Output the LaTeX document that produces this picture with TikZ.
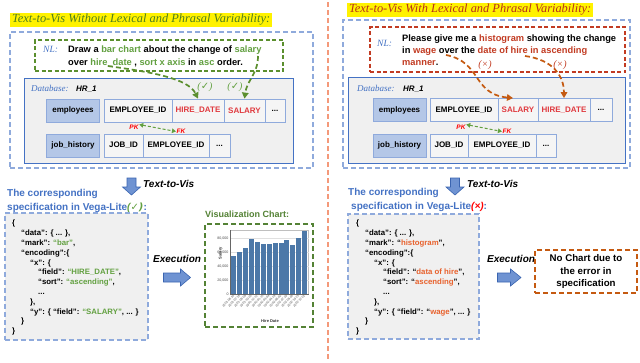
\documentclass[tikz,border=0pt]{standalone}
\usepackage{fontspec}
\setmainfont{Liberation Sans}
\newfontfamily\tms{Liberation Serif}
\newfontfamily\djv{DejaVu Sans}
\usetikzlibrary{arrows.meta}
\definecolor{boxblue}{HTML}{8FAADC}
\definecolor{dbblue}{HTML}{4472C4}
\definecolor{lblfill}{HTML}{B4C7E7}
\definecolor{grayfill}{HTML}{F0F0F0}
\definecolor{cellfill}{HTML}{F5F5F5}
\definecolor{nlgreen}{HTML}{5B8F2E}
\definecolor{txtgreen}{HTML}{62A040}
\definecolor{tabred}{HTML}{E0393E}
\definecolor{nlred}{HTML}{C23B22}
\definecolor{codeorange}{HTML}{E8612C}
\definecolor{arroworange}{HTML}{C55A11}
\definecolor{divcol}{HTML}{F4997A}
\definecolor{titlegreen}{HTML}{4E7D1E}
\definecolor{titlered}{HTML}{B7301A}
\definecolor{chartgreen}{HTML}{548235}
\definecolor{barblue}{HTML}{4C78A8}
\definecolor{arrowfill}{HTML}{6F93D2}
\definecolor{arrowdraw}{HTML}{3A64B0}
\newcommand\gtx[1]{\textcolor{txtgreen}{#1}}
\newcommand\rtx[1]{\textcolor{nlred}{#1}}
\newcommand\otx[1]{\textcolor{codeorange}{#1}}
\tikzset{
  outerbox/.style={draw=boxblue, line width=1.6pt, dash pattern=on 5pt off 3pt, inner sep=0pt},
  nlgbox/.style={draw=nlgreen, line width=1.4pt, dash pattern=on 4pt off 2.5pt, inner sep=0pt},
  nlrbox/.style={draw=nlred, line width=1.4pt, dash pattern=on 4pt off 2.5pt, inner sep=0pt},
  dbbox/.style={draw=dbblue, line width=0.7pt, fill=grayfill, inner sep=0pt},
  codebox/.style={outerbox, fill=grayfill},
  cell/.style={draw=boxblue, line width=0.8pt, fill=cellfill, minimum height=23pt, inner sep=0pt, font=\bfseries\fontsize{8}{9}\selectfont},
  redcell/.style={cell, text=tabred},
  lblcell/.style={cell, fill=lblfill},
  titlebox/.style={fill=yellow, inner xsep=2pt, inner ysep=0pt, minimum height=14pt, font=\tms\itshape\fontsize{12.4}{14}\selectfont},
  nllab/.style={font=\tms\itshape\fontsize{9.5}{11}\selectfont, text=dbblue, inner sep=0pt},
  nltext/.style={font=\bfseries\fontsize{9.3}{11}\selectfont, inner sep=0pt},
  dblab/.style={font=\tms\itshape\fontsize{9}{11}\selectfont, text=dbblue, inner sep=0pt},
  hrlab/.style={font=\bfseries\itshape\fontsize{8}{9}\selectfont, inner sep=0pt},
  keylab/.style={font=\bfseries\itshape\fontsize{6.5}{7}\selectfont, text=red, inner sep=0.5pt},
  chk/.style={font=\tms\itshape\fontsize{10}{11}\selectfont, inner sep=0pt},
  garrow/.style={draw=nlgreen, line width=1.7pt, dash pattern=on 5pt off 3pt, -{Triangle[length=6pt,width=6.5pt]}},
  oarrow/.style={draw=arroworange, line width=1.7pt, dash pattern=on 5pt off 3pt, -{Triangle[length=6pt,width=6.5pt]}},
  pkarrow/.style={draw=txtgreen, line width=1pt, dash pattern=on 3pt off 2pt, {Triangle[length=4pt,width=4.5pt]}-{Triangle[length=4pt,width=4.5pt]}},
  blockarrow/.style={fill=arrowfill, draw=arrowdraw, line width=0.6pt},
  sidelab/.style={font=\bfseries\itshape\fontsize{10}{12}\selectfont, inner sep=0pt},
  headtext/.style={font=\bfseries\fontsize{10}{12}\selectfont, text=dbblue, inner sep=0pt},
  codetext/.style={align=left, inner sep=0pt, font=\bfseries\fontsize{7.8}{9.8}\selectfont},
  ticklbl/.style={font=\fontsize{3.6}{4}\selectfont, text=black!70, inner sep=0.3pt},
  datelbl/.style={font=\fontsize{3}{3.2}\selectfont, text=black!70, inner sep=0pt},
  axlbl/.style={font=\bfseries\fontsize{4}{5}\selectfont, text=black!80, inner sep=0pt}
}
\begin{document}
\begin{tikzpicture}[x=1pt,y=-1pt]
\useasboundingbox (0,0) rectangle (640,362);
\fill[white] (0,0) rectangle (640,362);

% divider
\draw[draw=divcol, line width=1.5pt, dash pattern=on 5pt off 3pt] (328,2) -- (328,360);

% ================= LEFT =================
\node[titlebox, anchor=west, text=titlegreen] (titleL) at (10,20) {Text-to-Vis Without Lexical and Phrasal Variability:};
\node[outerbox, minimum width=303pt, minimum height=136pt] (outL) at (161.5,100) {};
\node[nlgbox, minimum width=248pt, minimum height=31pt] (nlL) at (159,55.5) {};
\node[nllab, anchor=base west] (nlLab) at (43,52) {NL:};
\node[nltext, anchor=base west] (nlL1) at (68,52.5) {Draw a \gtx{bar chart} about the change of \gtx{salary}};
\node[nltext, anchor=base west] (nlL2) at (68,65.5) {over \gtx{hire\_date} , \gtx{sort x axis} in \gtx{asc} order.};

\node[dbbox, minimum width=269pt, minimum height=85pt] (dbL) at (158.5,120.5) {};
\node[dblab, anchor=base west] (dbLab) at (31,91) {Database:};
\node[hrlab, anchor=base west] (hrL) at (76,91) {HR\_1};

\node[lblcell, minimum width=53pt] (empL) at (73,110.5) {employees};
\node[cell, minimum width=68pt] (eidL) at (138,110.5) {EMPLOYEE\_ID};
\node[redcell, minimum width=52pt] (hdL) at (198,110.5) {HIRE\_DATE};
\node[redcell, minimum width=41pt] (salL) at (244.5,110.5) {SALARY};
\node[cell, minimum width=20pt] (dotsL) at (275,110.5) {...};

\node[lblcell, minimum width=53pt] (jhL) at (73,145.5) {job\_history};
\node[cell, minimum width=39pt] (jidL) at (123.5,145.5) {JOB\_ID};
\node[cell, minimum width=66pt] (jeidL) at (176,145.5) {EMPLOYEE\_ID};
\node[cell, minimum width=21pt] (jdotsL) at (219.5,145.5) {...};

\node[keylab] (pkL) at (134,127.5) {PK};
\node[keylab] (fkL) at (181,131.5) {FK};
\draw[pkarrow] (pkL.north east) -- (fkL.west);

\coordinate (cHireL) at (108,66);
\coordinate (cSalL) at (258,56);
\draw[garrow] (cHireL) .. controls (150,72) and (188,78) .. (hdL.north);
\draw[garrow] (cSalL) .. controls (258,74) and (247,80) .. (salL.north);
\node[chk, text=txtgreen] (chkL1) at (205,87) {({\djv\itshape ✓})};
\node[chk, text=txtgreen] (chkL2) at (235,87) {({\djv\itshape ✓})};

% down arrow + labels
\draw[blockarrow] (127,178) -- (136,178) -- (136,187) -- (140.5,187) -- (131.5,195) -- (122.5,187) -- (127,187) -- cycle;
\node[sidelab, anchor=west] (t2vL) at (143,184) {Text-to-Vis};
\node[headtext, anchor=base west] (hdL1) at (7,196) {The corresponding};
\node[headtext, anchor=base west] (hdL2) at (7,210.5) {specification in Vega-Lite\textcolor{txtgreen}{\itshape(\djv ✓)}:};

\node[codebox, minimum width=143pt, minimum height=127pt] (codeL) at (76.5,276.5) {};
\node[codetext, anchor=north west] (codeLt) at (12,220) {%
\{\\
\hspace*{9pt}“data”: \{ ... \},\\
\hspace*{9pt}“mark”: \gtx{“bar”},\\
\hspace*{9pt}“encoding”:\{\\
\hspace*{18pt}“x”: \{\\
\hspace*{26pt}“field”: \gtx{“HIRE\_DATE”},\\
\hspace*{26pt}“sort”: \gtx{“ascending”},\\
\hspace*{26pt}...\\
\hspace*{18pt}\},\\
\hspace*{18pt}“y”: \{ “field”: \gtx{“SALARY”}, ... \}\\
\hspace*{9pt}\}\\
\}};

\node[sidelab, anchor=west] (exL) at (153,259) {Execution};
\draw[blockarrow] (163.5,273) -- (180.5,273) -- (180.5,269) -- (190.5,277.5) -- (180.5,286) -- (180.5,282) -- (163.5,282) -- cycle;

% chart
\node[font=\bfseries\fontsize{9}{11}\selectfont, text=chartgreen, anchor=west, inner sep=0pt] (vcL) at (205,214) {Visualization Chart:};
\node[draw=chartgreen, line width=1.8pt, dash pattern=on 5pt off 3pt, minimum width=108pt, minimum height=103pt, inner sep=0pt] (chartL) at (259,275.5) {};
\draw[black!25, line width=0.3pt] (230,230) rectangle (308.5,294);
\foreach \yy in {238,252,266,280}{\draw[black!12, line width=0.25pt] (230,\yy) -- (308.5,\yy);}
\foreach \h [count=\i from 0] in {255.7,251.7,248.3,239.3,242,244,244,242.7,243.3,240,245,238.3,230.7}{
  \fill[barblue] ({231.3+\i*5.9},294) rectangle ({231.3+\i*5.9+5},\h);
}
\draw[black!60, line width=0.3pt] (230,230) -- (230,294) -- (308.5,294);
\foreach \d [count=\i from 0] in {2001-06-10,2001-07-18,2001-09-09,2001-10-26,2001-12-12,2002-01-15,2002-03-04,2002-04-19,2002-06-02,2002-07-20,2002-09-05,2002-10-23,2002-12-01}{
  \node[datelbl, rotate=45, anchor=east] (tk\i) at ({233.8+\i*5.9},295.5) {\d};
}
\node[ticklbl, anchor=east] (y80) at (229,238) {80,000};
\node[ticklbl, anchor=east] (y60) at (229,252) {60,000};
\node[ticklbl, anchor=east] (y40) at (229,266) {40,000};
\node[ticklbl, anchor=east] (y20) at (229,280) {20,000};
\node[ticklbl, anchor=east] (y0) at (229,294) {0};
\node[axlbl, rotate=90] (ylab) at (220.5,253) {Salary};
\node[axlbl] (xlab) at (270,321) {Hire Date};

% ================= RIGHT =================
\node[titlebox, anchor=west, text=titlered] (titleR) at (347,9.5) {Text-to-Vis With Lexical and Phrasal Variability:};
\node[outerbox, minimum width=287pt, minimum height=148pt] (outR) at (486.5,94) {};
\node[nlrbox, minimum width=255pt, minimum height=45pt] (nlR) at (497.5,49.5) {};
\node[nllab, anchor=base west] (nlRab) at (377,46) {NL:};
\node[nltext, anchor=base west] (nlR1) at (402,41.5) {Please give me a \rtx{histogram} showing the change};
\node[nltext, anchor=base west] (nlR2) at (402,53.5) {in \rtx{wage} over the \rtx{date of hire in ascending}};
\node[nltext, anchor=base west] (nlR3) at (402,65) {\rtx{manner}.};

\node[dbbox, minimum width=277pt, minimum height=86pt] (dbR) at (486.5,120) {};
\node[dblab, anchor=base west] (dbRab) at (357,91) {Database:};
\node[hrlab, anchor=base west] (hrR) at (403,91) {HR\_1};

\node[lblcell, minimum width=53pt] (empR) at (399.5,110) {employees};
\node[cell, minimum width=68pt] (eidR) at (464,110) {EMPLOYEE\_ID};
\node[redcell, minimum width=40pt] (salR) at (518,110) {SALARY};
\node[redcell, minimum width=52pt] (hdR) at (564,110) {HIRE\_DATE};
\node[cell, minimum width=22pt] (dotsR) at (601,110) {...};

\node[lblcell, minimum width=53pt] (jhR) at (399.5,145.5) {job\_history};
\node[cell, minimum width=38pt] (jidR) at (449,145.5) {JOB\_ID};
\node[cell, minimum width=68pt] (jeidR) at (502,145.5) {EMPLOYEE\_ID};
\node[cell, minimum width=20pt] (jdotsR) at (546,145.5) {...};

\node[keylab] (pkR) at (461,127.5) {PK};
\node[keylab] (fkR) at (507,131.5) {FK};
\draw[pkarrow] (pkR.north east) -- (fkR.west);

\coordinate (cWageR) at (446,55);
\coordinate (cDateR) at (525,56);
\draw[oarrow] (cWageR) .. controls (482,62) and (472,94) .. ([xshift=-5pt]salR.north);
\draw[oarrow] (cDateR) .. controls (555,60) and (564,78) .. (hdR.north);
\node[chk, text=nlred] (xR1) at (485,65) {(×)};
\node[chk, text=nlred] (xR2) at (560,65) {(×)};

\draw[blockarrow] (450.5,178) -- (459.5,178) -- (459.5,187) -- (464,187) -- (455,195) -- (446,187) -- (450.5,187) -- cycle;
\node[sidelab, anchor=west] (t2vR) at (467,184) {Text-to-Vis};
\node[headtext, anchor=base west] (hdR1) at (348,195) {The corresponding};
\node[headtext, anchor=base west] (hdR2) at (351,209.5) {specification in Vega-Lite\textcolor{red}{\itshape(×)}:};

\node[codebox, minimum width=131pt, minimum height=125pt] (codeR) at (413.5,276.5) {};
\node[codetext, anchor=north west] (codeRt) at (356,220) {%
\{\\
\hspace*{9pt}“data”: \{ ... \},\\
\hspace*{9pt}“mark”: “\otx{histogram}”,\\
\hspace*{9pt}“encoding”:\{\\
\hspace*{18pt}“x”: \{\\
\hspace*{27pt}“field”: “\otx{data of hire}”,\\
\hspace*{27pt}“sort”: “\otx{ascending}”,\\
\hspace*{27pt}...\\
\hspace*{18pt}\},\\
\hspace*{18pt}“y”: \{ “field”: “\otx{wage}”, ... \}\\
\hspace*{9pt}\}\\
\}};

\node[sidelab, anchor=west] (exR) at (487,259) {Execution};
\draw[blockarrow] (497.5,273) -- (510.5,273) -- (510.5,269) -- (521,277.5) -- (510.5,286) -- (510.5,282) -- (497.5,282) -- cycle;
\node[draw=arroworange, line width=1.8pt, dash pattern=on 5pt off 3pt, minimum width=102pt, minimum height=43pt, inner sep=0pt, align=center, font=\bfseries\fontsize{9.7}{12.5}\selectfont] (noChart) at (586,271.5) {No Chart due to\\the error in\\specification};
\end{tikzpicture}
\end{document}
